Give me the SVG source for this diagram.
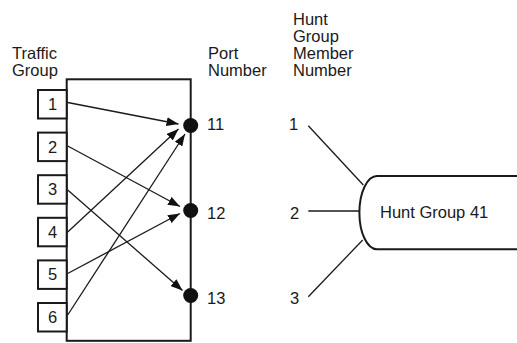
<svg xmlns="http://www.w3.org/2000/svg" width="517" height="343" viewBox="0 0 517 343">
<style>
text{font-family:"Liberation Sans",Arial,sans-serif;font-size:16.5px;fill:#1a1a1a}
.box{fill:#fff;stroke:#1a1a1a;stroke-width:2}
.c{stroke:#1a1a1a;stroke-width:1.3;fill:none}
.ca{stroke:#1a1a1a;stroke-width:1.3;fill:none;marker-end:url(#ah)}
.dot{fill:#111}
.mid{text-anchor:middle}
</style>
<defs>
<marker id="ah" markerUnits="userSpaceOnUse" markerWidth="13" markerHeight="9" refX="12" refY="4.5" orient="auto">
<path d="M0,0 L12,4.5 L0,9 z" fill="#111"/>
</marker>
</defs>

<g id="headings">
<text x="12" y="59">Traffic</text>
<text x="12" y="76">Group</text>
<text x="208" y="59">Port</text>
<text x="208" y="76">Number</text>
<text x="293" y="25">Hunt</text>
<text x="293" y="42">Group</text>
<text x="293" y="59">Member</text>
<text x="293" y="76">Number</text>
</g>

<g id="switch">
<rect class="box" x="66.7" y="79.3" width="124" height="261.5"/>
</g>

<g id="tg1"><rect class="box" x="38" y="90" width="28.7" height="28.5"/><text class="mid" x="52.5" y="110">1</text></g>
<g id="tg2"><rect class="box" x="38" y="132.6" width="28.7" height="28.5"/><text class="mid" x="52.5" y="152.6">2</text></g>
<g id="tg3"><rect class="box" x="38" y="175.2" width="28.7" height="28.5"/><text class="mid" x="52.5" y="195.2">3</text></g>
<g id="tg4"><rect class="box" x="38" y="217.8" width="28.7" height="28.5"/><text class="mid" x="52.5" y="237.8">4</text></g>
<g id="tg5"><rect class="box" x="38" y="260.4" width="28.7" height="28.5"/><text class="mid" x="52.5" y="280.4">5</text></g>
<g id="tg6"><rect class="box" x="38" y="303" width="28.7" height="28.5"/><text class="mid" x="52.5" y="323">6</text></g>

<g id="port11"><circle class="dot" cx="190.7" cy="125.5" r="7.5"/><text x="207" y="129.5">11</text></g>
<g id="port12"><circle class="dot" cx="190.7" cy="210.5" r="7.5"/><text x="207" y="219">12</text></g>
<g id="port13"><circle class="dot" cx="190.7" cy="295.5" r="7.5"/><text x="207" y="303.5">13</text></g>

<g id="huntgroup41">
<path d="M518,176 H377 A17.6 36.6 0 0 0 377,249.3 H518" fill="#fff" stroke="#1a1a1a" stroke-width="2"/>
<text x="380" y="218.3">Hunt Group 41</text>
</g>

<g id="members">
<text x="289" y="129.5">1</text>
<text x="290" y="219">2</text>
<text x="290" y="303.5">3</text>
</g>

<g id="connectors">
<line class="ca" x1="67.7" y1="102.5" x2="178.5" y2="124"/>
<line class="ca" x1="67.7" y1="146" x2="180" y2="206.5"/>
<line class="ca" x1="67.7" y1="190" x2="182.5" y2="290.5"/>
<line class="ca" x1="67.7" y1="232" x2="178.5" y2="129"/>
<line class="ca" x1="67.7" y1="273.5" x2="180" y2="213.5"/>
<line class="ca" x1="67.7" y1="315" x2="185" y2="134"/>
<line class="c" x1="308.3" y1="125.7" x2="363.3" y2="185"/>
<line class="c" x1="308.3" y1="211" x2="359" y2="211"/>
<line class="c" x1="308.3" y1="296.7" x2="362.7" y2="240"/>
</g>
</svg>
